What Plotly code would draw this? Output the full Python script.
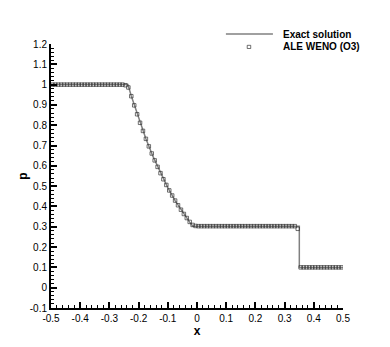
import numpy as np
import plotly.graph_objects as go

# exact solution (Sod problem, t = 0.2)
exact_x = [-0.5, -0.2366, -0.225, -0.2, -0.175, -0.15, -0.125, -0.1, -0.075,
           -0.05, -0.025, -0.014, 0.3504, 0.3504, 0.5]
exact_p = [1.0, 1.0, 0.944, 0.833, 0.733, 0.644, 0.564, 0.493, 0.429,
           0.373, 0.323, 0.303, 0.303, 0.1, 0.1]

# ALE WENO (O3) cell averages, 100 cells on [-0.5, 0.5]
weno_x = np.round(np.arange(-0.495, 0.5, 0.01), 3)
weno_p = (
    [1.0] * 25
    + [0.997]
    + [0.986, 0.943, 0.898, 0.854, 0.812, 0.772, 0.733, 0.696, 0.661, 0.627,
       0.595, 0.564, 0.534, 0.506, 0.479, 0.454, 0.429, 0.406, 0.384, 0.363,
       0.343, 0.324, 0.309]
    + [0.304, 0.303, 0.303] + [0.303] * 32
    + [0.29]
    + [0.1] * 15
)

xticks = [-0.5, -0.4, -0.3, -0.2, -0.1, 0, 0.1, 0.2, 0.3, 0.4, 0.5]
xlabels = ["-0.5", "-0.4", "-0.3", "-0.2", "-0.1", "0", "0.1", "0.2", "0.3", "0.4", "0.5"]
yticks = [-0.1, 0, 0.1, 0.2, 0.3, 0.4, 0.5, 0.6, 0.7, 0.8, 0.9, 1, 1.1, 1.2]
ylabels = ["-0.1", "0", "0.1", "0.2", "0.3", "0.4", "0.5", "0.6", "0.7", "0.8",
           "0.9", "1", "1.1", "1.2"]

FONT = "Liberation Sans, Arial"
LINE_COLOR = "#808080"
MARK_COLOR = "#333333"

fig = go.Figure()

fig.add_trace(go.Scatter(
    x=exact_x, y=exact_p, mode="lines", name="Exact solution",
    line=dict(color=LINE_COLOR, width=1.5),
))
fig.add_trace(go.Scatter(
    x=weno_x, y=weno_p, mode="markers", name="ALE WENO (O3)",
    marker=dict(symbol="square-open", size=3.5, color=MARK_COLOR,
                line=dict(width=0.7, color=MARK_COLOR)),
))

axis_common = dict(
    showgrid=False, zeroline=False, showline=True, linecolor="black",
    linewidth=2, ticks="inside", ticklen=6, tickwidth=2, tickcolor="black",
    tickfont=dict(family=FONT, size=10, color="black"),
    automargin=False,
)

# page body has an 8px margin, so the figure is 8px smaller than the window
fig.update_layout(
    width=382, height=339,
    margin=dict(l=43, r=47, t=36, b=39),
    plot_bgcolor="white", paper_bgcolor="white",
    showlegend=False,
    xaxis=dict(
        range=[-0.5, 0.5], tickvals=xticks, ticktext=xlabels,
        minor=dict(dtick=0.02, tick0=0, ticks="inside", ticklen=3,
                   tickwidth=1, tickcolor="black"),
        title=dict(text="<b>x</b>", standoff=0,
                   font=dict(family=FONT, size=12, color="black")),
        **axis_common,
    ),
    yaxis=dict(
        range=[-0.1, 1.2], tickvals=yticks, ticktext=ylabels,
        minor=dict(dtick=0.02, tick0=0, ticks="inside", ticklen=3,
                   tickwidth=1, tickcolor="black"),
        title=dict(text="<b>p</b>", standoff=0,
                   font=dict(family=FONT, size=12, color="black")),
        **axis_common,
    ),
)

# legend drawn by hand (tight row spacing like the original)
fig.add_shape(type="line", xref="paper", yref="paper",
              x0=0.599, x1=0.760, y0=1.038, y1=1.038,
              line=dict(color=LINE_COLOR, width=1.5))
fig.add_shape(type="rect", xref="paper", yref="paper",
              x0=0.672, x1=0.684, y0=0.983, y1=0.995,
              line=dict(color=MARK_COLOR, width=0.7))
for label, ypos in [("Exact solution", 1.036), ("ALE WENO (O3)", 0.989)]:
    fig.add_annotation(text=f"<b>{label}</b>", xref="paper", yref="paper",
                       x=0.788, y=ypos, xanchor="left", yanchor="middle",
                       showarrow=False,
                       font=dict(family=FONT, size=10, color="black"))

fig.write_html("out.html")
